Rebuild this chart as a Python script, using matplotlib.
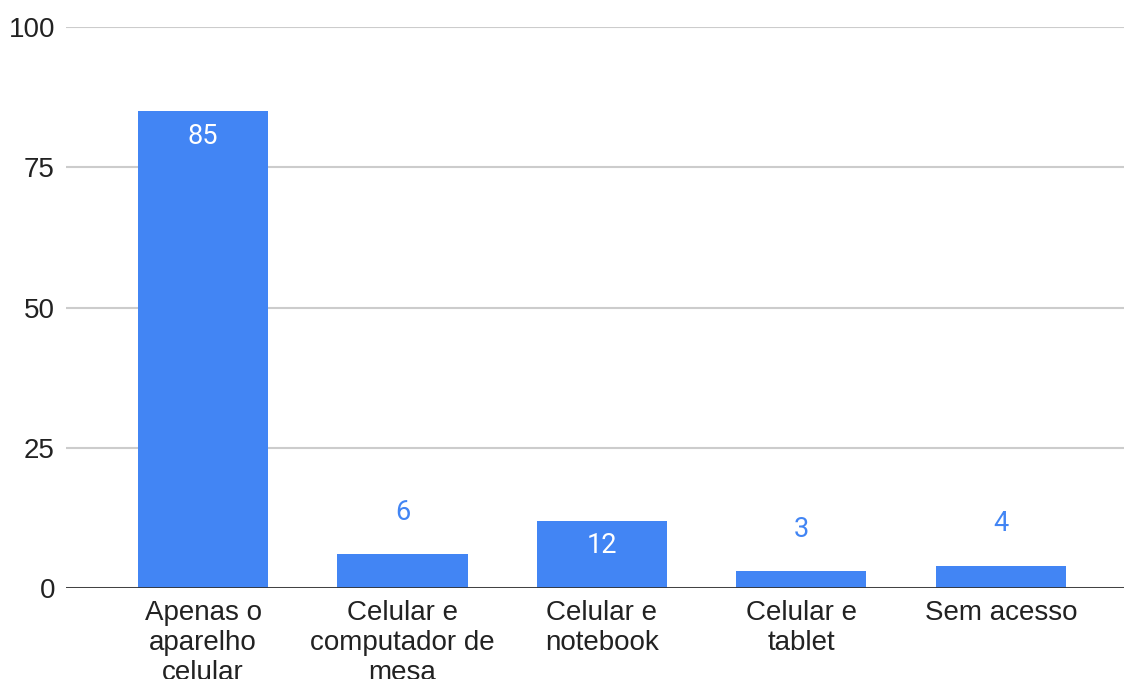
import matplotlib.pyplot as plt
import numpy as np

categories = ["Apenas o\naparelho\ncelular", "Celular e\ncomputador de\nmesa",
              "Celular e\nnotebook", "Celular e\ntablet", "Sem acesso"]
values = [85, 6, 12, 3, 4]
y_ticks = [0, 25, 50, 75, 100]

BLUE = "#4285F4"

fig = plt.figure(figsize=(11.24, 6.79), dpi=100)
ax = fig.add_axes([66 / 1124, 91 / 679, 1058 / 1124, 561 / 679])

x = np.arange(len(values))
bars = ax.bar(x, values, width=0.652, color=BLUE, zorder=3)

# tall bars get their value inside in white, short ones above in blue
for xi, v in zip(x, values):
    if v >= 10:
        ax.annotate(str(v), (xi, v), xytext=(0, -18), textcoords="offset points",
                    ha="center", va="center", color="white", fontsize=19.5,
                    family="Roboto", zorder=4)
    else:
        ax.annotate(str(v), (xi, v), xytext=(0, 30), textcoords="offset points",
                    ha="center", va="center", color=BLUE, fontsize=19.5,
                    family="Roboto", zorder=4)

ax.set_xlim(-0.687, 4.617)
ax.set_ylim(0, 100)
ax.set_yticks(y_ticks)
ax.set_xticks(x)
ax.set_xticklabels(categories, family="Liberation Sans", fontsize=20,
                   linespacing=1.2)
for lbl in ax.get_yticklabels():
    lbl.set_family("Liberation Sans")
    lbl.set_fontsize(20)

ax.grid(axis="y", color="#cccccc", linewidth=1.5, zorder=0)
ax.axhline(0, color="#333333", linewidth=2, zorder=5)
for s in ax.spines.values():
    s.set_visible(False)
ax.tick_params(axis="both", length=0, colors="#222222")
ax.tick_params(axis="y", pad=8)
ax.tick_params(axis="x", pad=9)

fig.savefig("out.png", dpi=100)
